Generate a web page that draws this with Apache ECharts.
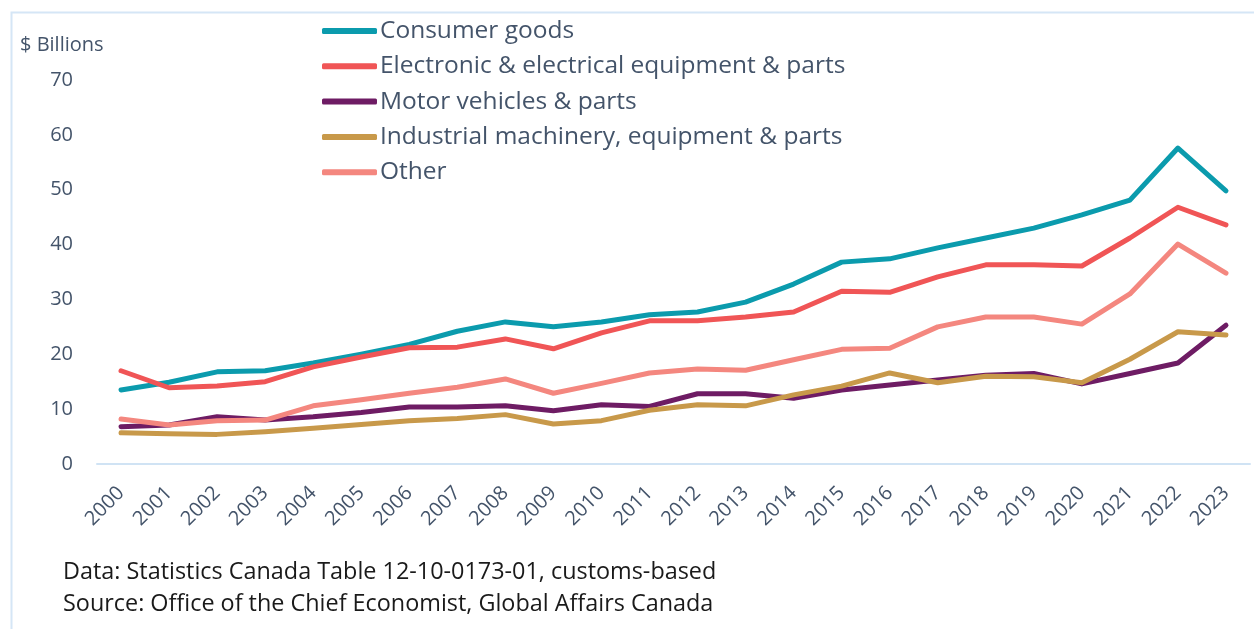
<!DOCTYPE html>
<html>
<head>
<meta charset="utf-8">
<script src="https://cdn.jsdelivr.net/npm/echarts@6/dist/echarts.min.js"></script>
<style>
html,body{margin:0;padding:0;background:#fff;}
#main{width:1254px;height:629px;}
</style>
</head>
<body>
<div id="main"></div>
<script>
const years = ['2000','2001','2002','2003','2004','2005','2006','2007','2008','2009','2010','2011','2012','2013','2014','2015','2016','2017','2018','2019','2020','2021','2022','2023'];
const consumerGoods = [13.5,14.9,16.8,17.0,18.4,20.0,21.8,24.2,25.9,25.0,25.9,27.2,27.7,29.5,32.8,36.8,37.4,39.4,41.2,43.0,45.4,48.1,57.6,49.8];
const electronic = [17.0,13.9,14.2,15.0,17.7,19.5,21.2,21.3,22.8,21.0,23.9,26.1,26.1,26.8,27.7,31.5,31.3,34.1,36.3,36.3,36.1,41.2,46.8,43.6];
const motorVehicles = [6.8,7.1,8.6,8.0,8.6,9.4,10.4,10.4,10.6,9.7,10.8,10.5,12.8,12.8,12.0,13.5,14.4,15.3,16.2,16.5,14.6,16.5,18.4,25.3];
const industrial = [5.7,5.5,5.4,5.9,6.5,7.2,7.9,8.3,9.0,7.3,7.9,9.8,10.8,10.6,12.6,14.2,16.6,14.8,16.0,15.9,14.8,19.1,24.1,23.5];
const other = [8.2,7.1,7.9,8.0,10.6,11.7,12.9,14.0,15.5,12.9,14.7,16.6,17.3,17.1,19.0,20.9,21.1,25.0,26.8,26.8,25.5,31.0,40.1,34.8];
const seriesNames = ['Consumer goods','Electronic & electrical equipment & parts','Motor vehicles & parts','Industrial machinery, equipment & parts','Other'];
const yTicks = [0,10,20,30,40,50,60,70];
const yUnit = '$ Billions';
const notes = ['Data: Statistics Canada Table 12-10-0173-01, customs-based','Source: Office of the Chief Economist, Global Affairs Canada'];

const colors = ['#0b9bad','#f05556','#6e1c64','#c8994a','#f4877f'];
const dataSets = [consumerGoods, electronic, motorVehicles, industrial, other];
const font = '"Open Sans", "Noto Sans", sans-serif';
const txt = '#44546a';

const chart = echarts.init(document.getElementById('main'));
chart.setOption({
  animation:false,
  grid:{left:97,right:4,top:80,height:384,containLabel:false},
  xAxis:{type:'category',data:years,boundaryGap:true,
    axisLine:{lineStyle:{color:'#d0e3f4',width:2}},axisTick:{show:false},
    axisLabel:{rotate:45,margin:26,fontSize:20,color:txt,fontFamily:font,interval:0}},
  yAxis:{type:'value',min:yTicks[0],max:yTicks[yTicks.length-1],interval:10,
    splitLine:{show:false},axisLine:{show:false},axisTick:{show:false},
    axisLabel:{fontSize:20,color:txt,fontFamily:font,margin:24}},
  legend:{orient:'vertical',left:322,top:18,padding:0,itemWidth:55,itemHeight:6,itemGap:9.3,
    icon:'roundRect',
    textStyle:{fontSize:24.5,color:txt,fontFamily:font,lineHeight:26,padding:[0,0,0,-2]},
    data:seriesNames},
  series:seriesNames.map((n,i)=>({name:n,type:'line',data:dataSets[i],showSymbol:false,symbol:'none',
    lineStyle:{color:colors[i],width:5,cap:'round',join:'round'},itemStyle:{color:colors[i]}})),
  graphic:[
    {type:'polyline',shape:{points:[[11.5,629],[11.5,12.5],[1254,12.5]]},style:{stroke:'#d5e6f6',lineWidth:2,fill:null},silent:true},
    {type:'text',x:20,y:45,style:{text:yUnit,fontSize:20,fill:txt,fontFamily:font,textVerticalAlign:'middle'}},
    {type:'text',x:63,y:572,style:{text:notes[0],fontSize:23.4,fill:'#1a1a1a',fontFamily:font,textVerticalAlign:'middle'}},
    {type:'text',x:63,y:604,style:{text:notes[1],fontSize:23.4,fill:'#1a1a1a',fontFamily:font,textVerticalAlign:'middle'}}
  ]
});
</script>
</body>
</html>
